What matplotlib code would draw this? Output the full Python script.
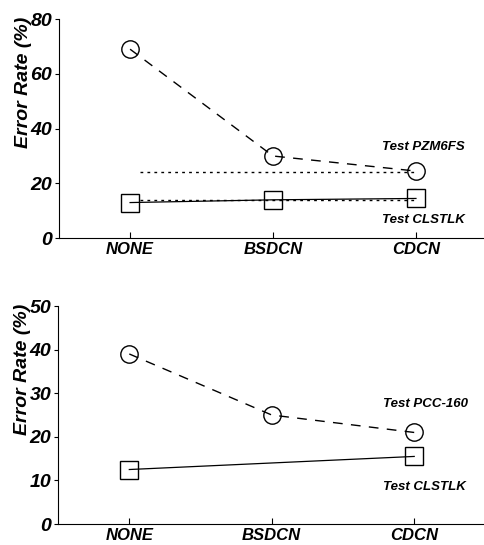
import matplotlib.pyplot as plt

plt.rcParams['font.family'] = ['Liberation Sans', 'DejaVu Sans']

methods = ["NONE", "BSDCN", "CDCN"]

# top panel
pzm6fs = [69, 30, 24.5]
clstlk_top = [13, 14, 14.5]
pzm6fs_ref = [24, 24]          # dotted reference line
clstlk_ref = [14, 14]          # dotted reference line
ref_x = [0.07, 2.0]

# bottom panel
pcc160 = [39, 25, 21]
clstlk_bot = [12.5, 15.5]
clstlk_bot_x = [0, 2]

fig = plt.figure(figsize=(4.84, 5.45), dpi=100)
ax1 = fig.add_axes([0.122, 0.563, 0.878, 0.402])
ax2 = fig.add_axes([0.120, 0.0385, 0.880, 0.400])

bold_it = dict(fontweight="bold", fontstyle="italic")
mk = dict(markersize=12.5, markerfacecolor="none", markeredgecolor="black", markeredgewidth=1.0)

# ---------------- TOP ----------------
x = range(len(methods))
ax1.plot(x, pzm6fs, color="black", lw=1.0, dashes=(7, 6), marker="o", **mk)
ax1.plot(x, clstlk_top, color="black", lw=0.9, marker="s", **mk)
ax1.plot(ref_x, pzm6fs_ref, color="black", lw=1.0, dashes=(2, 3))
ax1.plot(ref_x, clstlk_ref, color="black", lw=1.0, dashes=(2, 3))
ax1.set_ylim(0, 80)
ax1.set_yticks([0, 20, 40, 60, 80])
ax1.set_xlim(-0.497, 2.476)
ax1.text(2.05, 33.2, "Test PZM6FS", fontsize=9.5, ha="center", va="center", **bold_it)
ax1.text(2.05, 6.6, "Test CLSTLK", fontsize=9.5, ha="center", va="center", **bold_it)

# ---------------- BOTTOM ----------------
ax2.plot(x, pcc160, color="black", lw=1.0, dashes=(7, 6), marker="o", **mk)
ax2.plot(clstlk_bot_x, clstlk_bot, color="black", lw=0.9, marker="s", **mk)
ax2.set_ylim(0, 50)
ax2.set_yticks([0, 10, 20, 30, 40, 50])
ax2.set_xlim(-0.5, 2.49)
ax2.text(2.08, 27.5, "Test PCC-160", fontsize=9.5, ha="center", va="center", **bold_it)
ax2.text(2.07, 8.5, "Test CLSTLK", fontsize=9.5, ha="center", va="center", **bold_it)

for ax in (ax1, ax2):
    ax.spines["top"].set_visible(False)
    ax.spines["right"].set_visible(False)
    ax.set_xticks(list(x))
    ax.set_xticklabels(methods, fontsize=12, **bold_it)
    ax.tick_params(axis="x", direction="in", length=4, pad=3)
    ax.tick_params(axis="y", direction="out", length=3, labelsize=14, pad=2)
    for lab in ax.get_yticklabels():
        lab.set_fontweight("bold")
        lab.set_fontstyle("italic")
    ax.set_ylabel("Error Rate (%)", fontsize=14, **bold_it)
    ax.yaxis.set_label_coords(-0.064, 0.71)

fig.savefig("out.png", dpi=100)
